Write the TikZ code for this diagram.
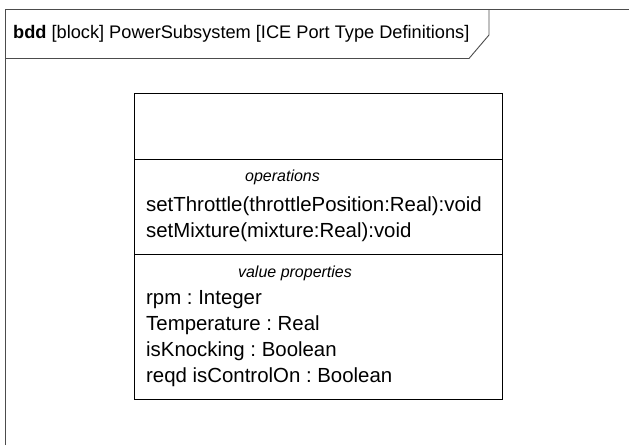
\documentclass[tikz,border=0pt]{standalone}
\usepackage{fontspec}
\setmainfont{Liberation Sans}
\frenchspacing
\begin{document}
\begin{tikzpicture}[x=1pt,y=-1pt,
    frameline/.style={draw=black!70, line width=0.9pt},
    blockline/.style={draw=black, line width=0.9pt},
    entry/.style={anchor=base west, inner sep=0pt, font=\fontsize{20.4}{24}\selectfont},
    comptitle/.style={anchor=base, inner sep=0pt, font=\fontsize{16}{19}\selectfont\itshape}]
        % --- Parameters ---
        \pgfmathsetmacro{\bl}{134}
        \pgfmathsetmacro{\br}{502}
        \pgfmathsetmacro{\bt}{93}
        \pgfmathsetmacro{\bb}{399}
        \useasboundingbox (0,0) rectangle (629,445);
        % --- Diagram frame ---
        \draw[frameline] (5,445) -- (5,9.5) -- (629,9.5);
        \draw[frameline] (5,58.5) -- (469,58.5) -- (489,35) -- (489,9.5);
        \node[entry, font=\fontsize{18.2}{22}\selectfont] (title) at (13,38) {\textbf{bdd} [block] PowerSubsystem [ICE Port Type Definitions]};
        % --- Block with compartments ---
        \draw[blockline] (\bl,\bt) rectangle (\br,\bb);
        \draw[blockline] (\bl,159) -- (\br,159);
        \draw[blockline] (\bl,254) -- (\br,254);
        % --- Operations ---
        \node[comptitle] (opsLabel) at (282.5,181) {operations};
        \node[entry] (opThrottle) at (146,211) {setThrottle(throttlePosition:Real):void};
        \node[entry] (opMixture) at (146,237) {setMixture(mixture:Real):void};
        % --- Value properties ---
        \node[comptitle] (valLabel) at (295,277) {value properties};
        \node[entry] (valRpm) at (146,304) {rpm : Integer};
        \node[entry] (valTemp) at (146,330) {Temperature : Real};
        \node[entry] (valKnock) at (146,356) {isKnocking : Boolean};
        \node[entry] (valCtrl) at (146,382) {reqd isControlOn : Boolean};
\end{tikzpicture}
\end{document}
